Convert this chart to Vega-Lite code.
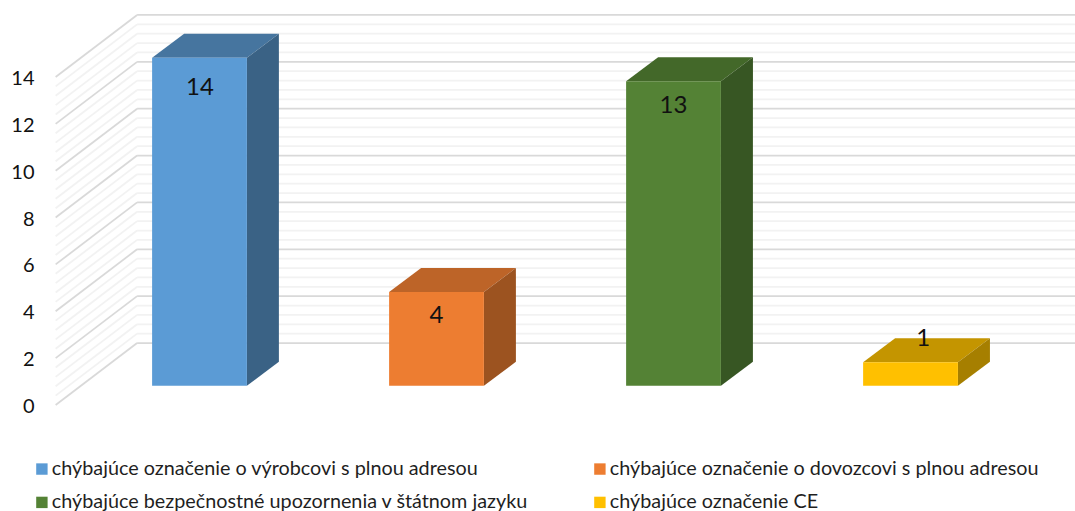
{"$schema":"https://vega.github.io/schema/vega-lite/v6.json","width":1035,"height":511,"autosize":"none","padding":{"left":40,"top":0,"right":0,"bottom":0},"background":"white","config":{"view":{"stroke":null},"font":"Lato"},"datasets":{"walls":[{"level":0,"back":2.646,"kind":"major"},{"level":0.4,"back":3.046,"kind":"minor"},{"level":0.8,"back":3.446,"kind":"minor"},{"level":1.2,"back":3.846,"kind":"minor"},{"level":1.6,"back":4.246,"kind":"minor"},{"level":2,"back":4.646,"kind":"major"},{"level":2.4,"back":5.046,"kind":"minor"},{"level":2.8,"back":5.446,"kind":"minor"},{"level":3.2,"back":5.846,"kind":"minor"},{"level":3.6,"back":6.246,"kind":"minor"},{"level":4,"back":6.646,"kind":"major"},{"level":4.4,"back":7.046,"kind":"minor"},{"level":4.8,"back":7.446,"kind":"minor"},{"level":5.2,"back":7.846,"kind":"minor"},{"level":5.6,"back":8.246,"kind":"minor"},{"level":6,"back":8.646,"kind":"major"},{"level":6.4,"back":9.046,"kind":"minor"},{"level":6.8,"back":9.446,"kind":"minor"},{"level":7.2,"back":9.846,"kind":"minor"},{"level":7.6,"back":10.246,"kind":"minor"},{"level":8,"back":10.646,"kind":"major"},{"level":8.4,"back":11.046,"kind":"minor"},{"level":8.8,"back":11.446,"kind":"minor"},{"level":9.2,"back":11.846,"kind":"minor"},{"level":9.6,"back":12.246,"kind":"minor"},{"level":10,"back":12.646,"kind":"major"},{"level":10.4,"back":13.046,"kind":"minor"},{"level":10.8,"back":13.446,"kind":"minor"},{"level":11.2,"back":13.846,"kind":"minor"},{"level":11.6,"back":14.246,"kind":"minor"},{"level":12,"back":14.646,"kind":"major"},{"level":12.4,"back":15.046,"kind":"minor"},{"level":12.8,"back":15.446,"kind":"minor"},{"level":13.2,"back":15.846,"kind":"minor"},{"level":13.6,"back":16.246,"kind":"minor"},{"level":14,"back":16.646,"kind":"major"}],"bars":[{"series":"chýbajúce označenie o výrobcovi s plnou adresou","value":14,"x0":0.8,"x1":1.2,"low":0.82,"high":14.82,"labelX":1.002,"labelPos":13.55},{"series":"chýbajúce označenie o dovozcovi s plnou adresou","value":4,"x0":1.8,"x1":2.2,"low":0.82,"high":4.82,"labelX":2,"labelPos":3.78},{"series":"chýbajúce bezpečnostné upozornenia v štátnom jazyku","value":13,"x0":2.8,"x1":3.2,"low":0.82,"high":13.82,"labelX":3,"labelPos":12.74},{"series":"chýbajúce označenie CE","value":1,"x0":3.8,"x1":4.2,"low":0.82,"high":1.82,"labelX":4.053,"labelPos":2.8}],"faces":[{"face":"A top","x":0.8,"low":14.82,"high":14.82},{"face":"A top","x":0.935,"low":14.82,"high":15.844},{"face":"A top","x":1.2,"low":14.82,"high":15.844},{"face":"A top","x":1.335,"low":15.844,"high":15.844},{"face":"A side","x":1.2,"low":0.82,"high":14.82},{"face":"A side","x":1.335,"low":1.844,"high":15.844},{"face":"B top","x":1.8,"low":4.82,"high":4.82},{"face":"B top","x":1.935,"low":4.82,"high":5.844},{"face":"B top","x":2.2,"low":4.82,"high":5.844},{"face":"B top","x":2.335,"low":5.844,"high":5.844},{"face":"B side","x":2.2,"low":0.82,"high":4.82},{"face":"B side","x":2.335,"low":1.844,"high":5.844},{"face":"C top","x":2.8,"low":13.82,"high":13.82},{"face":"C top","x":2.935,"low":13.82,"high":14.844},{"face":"C top","x":3.2,"low":13.82,"high":14.844},{"face":"C top","x":3.335,"low":14.844,"high":14.844},{"face":"C side","x":3.2,"low":0.82,"high":13.82},{"face":"C side","x":3.335,"low":1.844,"high":14.844},{"face":"D top","x":3.8,"low":1.82,"high":1.82},{"face":"D top","x":3.935,"low":1.82,"high":2.844},{"face":"D top","x":4.2,"low":1.82,"high":2.844},{"face":"D top","x":4.335,"low":2.844,"high":2.844},{"face":"D side","x":4.2,"low":0.82,"high":1.82},{"face":"D side","x":4.335,"low":1.844,"high":2.844}]},"layer":[{"data":{"name":"walls"},"transform":[{"filter":"datum.kind === 'minor'"}],"mark":{"type":"rule","stroke":"#f2f2f2","strokeWidth":1.75},"encoding":{"x":{"datum":0.393,"type":"quantitative","scale":{"domain":[0.327,4.694],"nice":false,"zero":false},"axis":null},"x2":{"datum":0.7367},"y":{"field":"level","type":"quantitative","scale":{"domain":[-4.524,17.285],"nice":false,"zero":false},"axis":{"title":null,"values":[0,2,4,6,8,10,12,14],"domain":false,"ticks":false,"grid":false,"labelFont":"Lato","labelFontSize":20,"labelColor":"#111111","labelPadding":6,"labelOffset":1.5}},"y2":{"field":"back"}}},{"data":{"name":"walls"},"transform":[{"filter":"datum.kind === 'minor'"}],"mark":{"type":"rule","stroke":"#f2f2f2","strokeWidth":1.75},"encoding":{"x":{"datum":0.7367,"type":"quantitative"},"x2":{"datum":4.694},"y":{"field":"back","type":"quantitative"}}},{"data":{"name":"walls"},"transform":[{"filter":"datum.kind === 'major'"}],"mark":{"type":"rule","stroke":"#d9d9d9","strokeWidth":1.75},"encoding":{"x":{"datum":0.393,"type":"quantitative"},"x2":{"datum":0.7367},"y":{"field":"level","type":"quantitative"},"y2":{"field":"back"}}},{"data":{"name":"walls"},"transform":[{"filter":"datum.kind === 'major'"}],"mark":{"type":"rule","stroke":"#d9d9d9","strokeWidth":1.75},"encoding":{"x":{"datum":0.7367,"type":"quantitative"},"x2":{"datum":4.694},"y":{"field":"back","type":"quantitative"}}},{"data":{"name":"faces"},"mark":{"type":"area","interpolate":"linear"},"encoding":{"x":{"field":"x","type":"quantitative"},"y":{"field":"low","type":"quantitative","stack":null},"y2":{"field":"high"},"color":{"field":"face","type":"nominal","scale":{"domain":["A top","A side","B top","B side","C top","C side","D top","D side"],"range":["#46759f","#3a6285","#bd6428","#9c5320","#436829","#375623","#c49500","#a67f00"]},"legend":null}}},{"data":{"name":"bars"},"mark":{"type":"rect"},"encoding":{"x":{"field":"x0","type":"quantitative"},"x2":{"field":"x1"},"y":{"field":"low","type":"quantitative"},"y2":{"field":"high"},"color":{"field":"series","type":"nominal","sort":null,"scale":{"domain":["chýbajúce označenie o výrobcovi s plnou adresou","chýbajúce označenie o dovozcovi s plnou adresou","chýbajúce bezpečnostné upozornenia v štátnom jazyku","chýbajúce označenie CE"],"range":["#5b9bd5","#ed7d31","#548235","#ffc000"]},"legend":{"title":null,"orient":"none","legendX":-8,"legendY":459,"direction":"horizontal","columns":2,"symbolType":"square","symbolSize":130,"symbolStrokeWidth":0,"labelFont":"Lato","labelFontSize":19.8,"labelColor":"#1f1f1f","labelLimit":700,"labelOffset":0,"rowPadding":12.5,"columnPadding":61,"gridAlign":"each"}}}},{"data":{"name":"bars"},"mark":{"type":"text","font":"Lato","fontSize":24,"color":"#111111","baseline":"middle","align":"center"},"encoding":{"x":{"field":"labelX","type":"quantitative"},"y":{"field":"labelPos","type":"quantitative"},"text":{"field":"value","type":"quantitative"}}}],"resolve":{"scale":{"color":"independent"}}}
